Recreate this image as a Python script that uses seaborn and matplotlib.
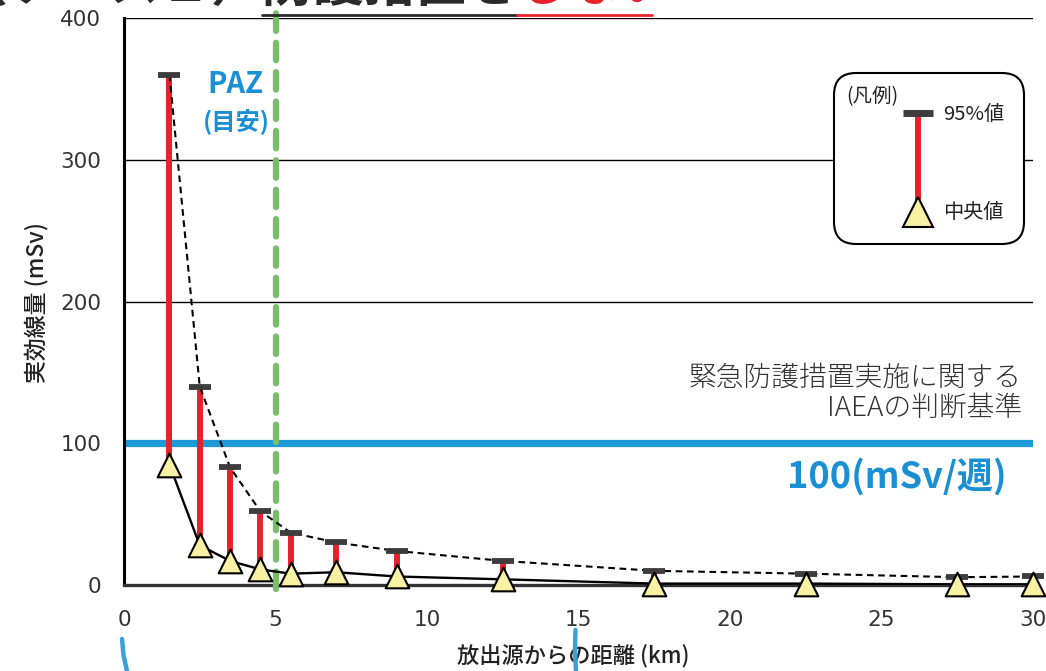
import matplotlib
matplotlib.use("Agg")
import matplotlib.pyplot as plt
import seaborn as sns
import pandas as pd
from matplotlib.patches import FancyBboxPatch
from matplotlib.lines import Line2D

# データ
distance_km = [1.5, 2.5, 3.5, 4.5, 5.5, 7, 9, 12.5, 17.5, 22.5, 27.5, 30]
dose_95 = [360, 140, 83, 52, 37, 30, 24, 17, 10, 8, 5.5, 6]
dose_median = [85, 28, 17, 11, 8, 9, 6, 4, 1, 1, 0.5, 0.5]
x_ticks = [0, 5, 10, 15, 20, 25, 30]
y_ticks = [0, 100, 200, 300, 400]
iaea_level = 100
paz_km = 5

df = pd.DataFrame({"距離": distance_km, "95%値": dose_95, "中央値": dose_median})

sns.set_style("white")
plt.rcParams['font.family'] = ['Noto Sans CJK JP', 'DejaVu Sans']

W, H = 1046, 671
fig = plt.figure(figsize=(W / 100, H / 100), dpi=100)

def fx(px):
    return px / W

def fy(py):
    return 1 - py / H

ax = fig.add_axes([fx(124), fy(585), fx(1033) - fx(124), fy(18) - fy(585)])

# 目盛線
for v in y_ticks[2:]:
    ax.axhline(v, color="black", lw=1.0, zorder=1)

# IAEA基準線
ax.axhline(iaea_level, color="#1f9ad8", lw=5.2, zorder=2)

# PAZ（緑の破線）
ax.plot([paz_km, paz_km], [-3, 408], color="#76bf66", lw=4.5,
        dashes=(2.8, 1.9), dash_capstyle="round", clip_on=False, zorder=3)

# 中央値〜95%値の範囲（赤）
ax.vlines(df["距離"], df["中央値"], df["95%値"], color="#e8222b", lw=4.3, zorder=4)

# 線
sns.lineplot(data=df, x="距離", y="95%値", ax=ax, color="black", lw=1.5,
             zorder=5, linestyle=(0, (3.2, 2.2)))
sns.lineplot(data=df, x="距離", y="中央値", ax=ax, color="black", lw=1.7, zorder=5)

# 95%値のキャップ
sns.scatterplot(data=df, x="距離", y="95%値", ax=ax, marker="_", s=260,
                color="#3d3d3d", linewidth=4.2, zorder=6, clip_on=False)
# 中央値の三角
sns.scatterplot(data=df, x="距離", y="中央値", ax=ax, marker="^", s=290,
                color="#f8f0a2", edgecolor="black", linewidth=1.5, zorder=7,
                clip_on=False)

ax.set_xlim(0, 30)
ax.set_ylim(0, 400)
ax.set_xticks(x_ticks)
ax.set_yticks(y_ticks)
for lab in ax.get_xticklabels() + ax.get_yticklabels():
    lab.set_fontfamily("DejaVu Sans")
    lab.set_fontsize(15.5)
    lab.set_color("#333333")
ax.tick_params(axis="x", direction="out", length=5, width=2, pad=13, color="#222222")
ax.tick_params(axis="y", direction="out", length=6.5, width=1.5, pad=10, color="#222222")
sns.despine(ax=ax, top=True, right=True)
ax.spines["left"].set_linewidth(2.2)
ax.spines["left"].set_color("black")
ax.spines["bottom"].set_linewidth(2.4)
ax.spines["bottom"].set_color("#333333")
ax.spines["bottom"].set_zorder(2.5)

ax.set_xlabel("放出源からの距離 (km)", fontsize=16, color="#222222", fontweight="medium")
ax.set_ylabel("実効線量 (mSv)", fontsize=16.5, color="#222222", fontweight="medium")
ax.xaxis.set_label_coords((573 - 124) / 909, (585 - 644) / 567)
ax.yaxis.set_label_coords((48 - 124) / 909, (585 - 303) / 567)

# 注記
ax.text(fx(1022), fy(378), "緊急防護措置実施に関する", transform=fig.transFigure,
        ha="right", va="center", fontsize=20, color="#333333", fontweight="light")
ax.text(fx(1022), fy(408), "IAEAの判断基準", transform=fig.transFigure,
        ha="right", va="center", fontsize=20, color="#333333", fontweight="light")
ax.text(fx(1007), fy(477), "100(mSv/週)", transform=fig.transFigure,
        ha="right", va="center", fontsize=26, color="#1a8fd3", fontweight="bold")
ax.text(fx(235), fy(84), "PAZ", transform=fig.transFigure,
        ha="center", va="center", fontsize=21, color="#1a8fd3", fontweight="bold")
ax.text(fx(236), fy(121), "(目安)", transform=fig.transFigure,
        ha="center", va="center", fontsize=17.5, color="#1a8fd3", fontweight="bold")

# 上部のタイトル（切れている）
fig.text(fx(517), fy(1), "（ケース１）防護措置を", ha="right", va="baseline",
         fontsize=36.7, fontweight="bold", color="#2a2a2a")
fig.text(fx(517), fy(1), "しない", ha="left", va="baseline",
         fontsize=36.7, fontweight="bold", color="#e8222b")
fig.add_artist(Line2D([fx(262), fx(517)], [fy(15), fy(15)], color="#2a2a2a", lw=2))
fig.add_artist(Line2D([fx(517), fx(652)], [fy(15), fy(15)], color="#e8222b", lw=2))

# 下部の青い断片
fig.add_artist(Line2D([fx(122), fx(123.5), fx(127)], [fy(639), fy(655), fy(671)],
                      color="#3aa0dc", lw=3.2))
fig.add_artist(Line2D([fx(575.5), fx(575), fx(576)], [fy(630), fy(650), fy(671)],
                      color="#3aa0dc", lw=3.2))

# 凡例
lax = fig.add_axes([fx(826), fy(250), fx(1030) - fx(826), fy(66) - fy(250)])
lax.set_xlim(826, 1030)
lax.set_ylim(250, 66)
lax.set_axis_off()
lax.add_patch(FancyBboxPatch((834, 73), 190, 171, boxstyle="round,pad=0,rounding_size=22",
                             facecolor="white", edgecolor="black", lw=1.5))
lax.text(846, 97, "(凡例)", fontsize=14, va="center", ha="left", color="#222222")
lax.plot([917.5, 917.5], [116, 203], color="#e8222b", lw=4.3)
lax.plot([917.5], [113], marker="_", ms=22, mew=5, color="#3d3d3d")
lax.plot([917.5], [212], marker="^", ms=22, mfc="#f8f0a2", mec="black", mew=1.5)
lax.text(943, 114, "95%値", fontsize=14.5, va="center", ha="left", color="#222222")
lax.text(943, 213, "中央値", fontsize=14.5, va="center", ha="left", color="#222222")

fig.savefig("out.png", dpi=100)
